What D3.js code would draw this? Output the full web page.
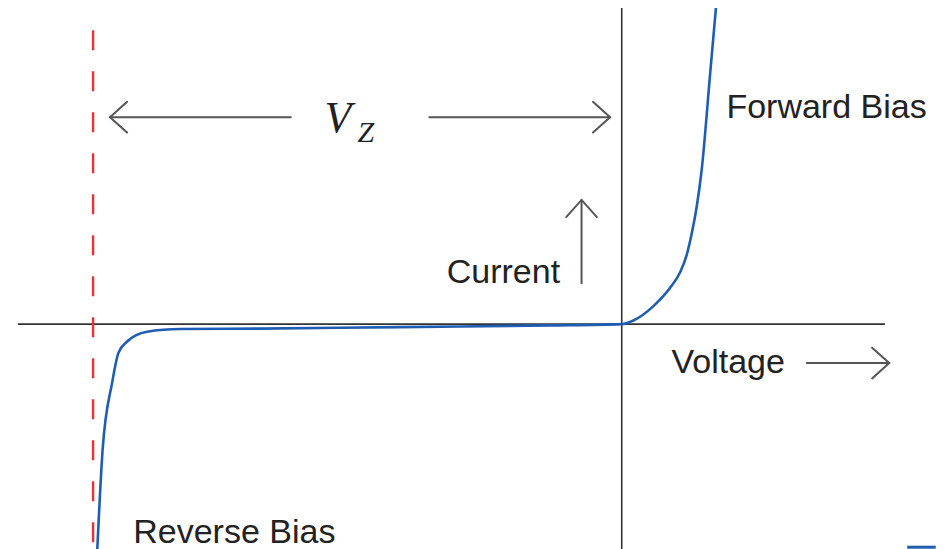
<!DOCTYPE html>
<html>
<head>
<meta charset="utf-8">
<script src="https://cdn.jsdelivr.net/npm/d3@7"></script>
<style>
  body { margin: 0; background: #fff; }
  .label { font-family: "Liberation Sans", Arial, sans-serif; font-size: 34px; fill: #222; }
  .math { font-family: "Liberation Serif", "Times New Roman", serif; font-style: italic; fill: #222; }
</style>
</head>
<body>
<svg id="chart"></svg>
<script>
// diode I-V curve, voltage in V, current in arbitrary units
const voltage = [-4.96, -4.91, -4.82, -4.76, -4.68, -4.49, -4.17, -3.42, -2.10, -0.68, 0,
                 0.11, 0.30, 0.456, 0.551, 0.614, 0.662, 0.709, 0.756, 0.835, 0.891];
const current = [-3.75, -2.10, -0.98, -0.48, -0.295, -0.128, -0.083, -0.075, -0.05, -0.022, 0,
                 0.06, 0.30, 0.60, 0.86, 1.15, 1.51, 1.955, 2.567, 4.15, 5.27];
const zenerVoltage = -5;
const labels = ['Forward Bias', 'Reverse Bias', 'Current', 'Voltage'];

const width = 952, height = 549;

const svg = d3.select('#chart')
    .attr('width', width)
    .attr('height', height);

const x = d3.scaleLinear().domain([-5.71, 2.49]).range([18, 885]);
const y = d3.scaleLinear().domain([-3.75, 5.27]).range([549, 8]);

const axisColor = '#333';
const arrowColor = '#555';

// axes through the origin
svg.append('line')
    .attr('x1', x(-5.71)).attr('x2', x(2.49))
    .attr('y1', y(0)).attr('y2', y(0))
    .attr('stroke', axisColor).attr('stroke-width', 1.6);

svg.append('line')
    .attr('x1', x(0)).attr('x2', x(0))
    .attr('y1', y(5.27)).attr('y2', y(-3.75))
    .attr('stroke', axisColor).attr('stroke-width', 1.6);

// breakdown voltage marker
svg.append('line')
    .attr('x1', x(zenerVoltage)).attr('x2', x(zenerVoltage))
    .attr('y1', y(4.9)).attr('y2', y(-3.75))
    .attr('stroke', '#e8323a').attr('stroke-width', 2.4)
    .attr('stroke-dasharray', '20,21');

// the curve
const pts = voltage.map((v, i) => [v, current[i]]);
const line = d3.line()
    .x(d => x(d[0]))
    .y(d => y(d[1]))
    .curve(d3.curveMonotoneX);

svg.append('path')
    .datum(pts)
    .attr('d', line)
    .attr('fill', 'none')
    .attr('stroke', '#1f5db3')
    .attr('stroke-width', 2.6);

// open chevron arrows
function arrow(x1, y1, x2, y2) {
  const g = svg.append('g')
      .attr('stroke', arrowColor).attr('stroke-width', 2).attr('fill', 'none')
      .attr('stroke-linecap', 'round');
  g.append('line').attr('x1', x1).attr('y1', y1).attr('x2', x2).attr('y2', y2);
  const a = Math.atan2(y2 - y1, x2 - x1), len = 23, spread = Math.PI / 4.3;
  const p = [a + Math.PI - spread, a + Math.PI + spread]
      .map(t => [x2 + len * Math.cos(t), y2 + len * Math.sin(t)]);
  g.append('polyline')
      .attr('points', [p[0], [x2, y2], p[1]].map(d => d.join(',')).join(' '));
}

const vzY = y(3.45);
arrow(x(-3.13), vzY, x(-4.84), vzY);
arrow(x(-1.82), vzY, x(-0.11), vzY);
arrow(x(-0.38), y(0.68), x(-0.38), y(2.07));
arrow(x(1.75), y(-0.65), x(2.53), y(-0.65));

// V_Z label
const vz = svg.append('text').attr('class', 'math')
    .attr('x', x(-2.81)).attr('y', y(3.2));
vz.append('tspan').attr('font-size', 44).text('V');
vz.append('tspan').attr('font-size', 30).attr('dx', 6).attr('dy', 10).text('Z');

// text labels
svg.append('text').attr('class', 'label')
    .attr('x', x(0.99)).attr('y', y(3.43)).text(labels[0]);
svg.append('text').attr('class', 'label')
    .attr('x', x(-4.62)).attr('y', y(-3.65)).text(labels[1]);
svg.append('text').attr('class', 'label')
    .attr('x', x(-1.655)).attr('y', y(0.68)).text(labels[2]);
svg.append('text').attr('class', 'label')
    .attr('x', x(0.47)).attr('y', y(-0.82)).text(labels[3]);

// small legend swatch stub at the bottom right
svg.append('line')
    .attr('x1', x(2.7)).attr('x2', x(2.97))
    .attr('y1', y(-3.72)).attr('y2', y(-3.72))
    .attr('stroke', '#1f5db3').attr('stroke-width', 3);
</script>
</body>
</html>
